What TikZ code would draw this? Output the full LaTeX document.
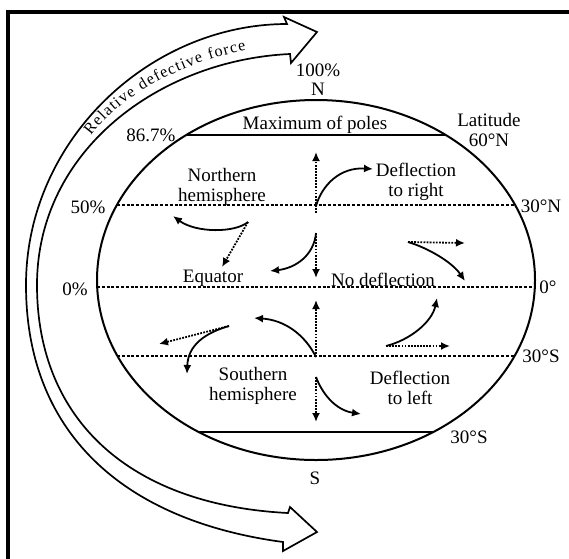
\documentclass[tikz,border=0pt]{standalone}
\usepackage{fontspec}
\setmainfont{Liberation Serif}
\usetikzlibrary{arrows.meta, decorations.text}

\begin{document}
\begin{tikzpicture}[
    x=1pt, y=-1pt,
    lbl/.style={font=\fontsize{19}{20}\selectfont, inner sep=0pt, align=center},
    globe/.style={line width=2pt},
    latline/.style={line width=1.6pt, dash pattern=on 3pt off 1.8pt},
    defl/.style={-{Latex[length=9pt,width=8pt]}, line width=1.8pt},
    dotdefl/.style={defl, dash pattern=on 1.8pt off 1.3pt},
    band/.style={line width=1.7pt, line join=miter}
]
\useasboundingbox (0,0) rectangle (569,558);

% Frame
\draw[line width=4pt] (8,560) -- (8,12) -- (569,12);

% Relative force band
\draw[band] (287,24) .. controls (150,24) and (26,140) .. (26,285)
    .. controls (26,430) and (120,520) .. (283,542)
    -- (283,551) -- (317,532) -- (290,507) -- (288,513)
    .. controls (130,505) and (37,420) .. (37,285)
    .. controls (37,150) and (160,60) .. (290,54)
    -- (291,63) -- (317,32) -- (284,17) -- cycle;
\path[decorate, decoration={text along path, text align={fit to path},
    text={|\fontsize{16}{16}\selectfont|Relative defective force}}]
    (91,136) .. controls (122,94) and (182,63) .. (246,50);

% Globe and latitudes
\draw[globe] (316,280) ellipse [x radius=219pt, y radius=180pt];
\draw[globe] (186,135) -- (446,135);
\draw[globe] (199,432) -- (433,432);
\draw[latline] (117,205) -- (515,205);
\draw[latline] (97,287) -- (535,287);
\draw[latline] (117,356) -- (515,356);

% North, poleward of 30N
\coordinate (nA) at (316,213);
\coordinate (nAup) at (316,152);
\coordinate (nAtip) at (373,169);
\draw[dotdefl] (nA) -- (nAup);
\draw[defl] (316,206) .. controls (322,185) and (340,167) .. (nAtip);

% North, equatorward
\coordinate (nB) at (316,233);
\coordinate (nBdn) at (316,278);
\coordinate (nBtip) at (270,271);
\draw[dotdefl] (nB) -- (nBdn);
\draw[defl] (nB) .. controls (314,255) and (296,268) .. (nBtip);

\coordinate (nC) at (248,222);
\coordinate (nCdn) at (222,267);
\coordinate (nCtip) at (173,216);
\draw[dotdefl] (nC) -- (nCdn);
\draw[defl] (nC) .. controls (235,233) and (196,233) .. (nCtip);

\coordinate (nD) at (408,242);
\coordinate (nDrt) at (465,243);
\coordinate (nDtip) at (465,281);
\draw[dotdefl] (nD) -- (nDrt);
\draw[defl] (nD) .. controls (428,248) and (452,262) .. (nDtip);

% South, equatorward
\coordinate (sA) at (316,357);
\coordinate (sAup) at (316,300);
\coordinate (sAtip) at (254,318);
\draw[dotdefl] (sA) -- (sAup);
\draw[defl] (sA) .. controls (305,335) and (285,320) .. (sAtip);

\coordinate (sB) at (386,346);
\coordinate (sBrt) at (450,346);
\coordinate (sBtip) at (437,298);
\draw[dotdefl] (sB) -- (sBrt);
\draw[defl] (sB) .. controls (410,340) and (432,322) .. (sBtip);

\coordinate (sC) at (229,326);
\coordinate (sClt) at (159,344);
\coordinate (sCtip) at (187,374);
\draw[dotdefl] (sC) -- (sClt);
\draw[defl] (sC) .. controls (205,333) and (188,345) .. (sCtip);

% South, poleward of 30S
\coordinate (sD) at (316,377);
\coordinate (sDdn) at (316,422);
\coordinate (sDtip) at (361,414);
\draw[dotdefl] (sD) -- (sDdn);
\draw[defl] (sD) .. controls (322,393) and (335,410) .. (sDtip);

% Labels
\node[lbl] (pct100) at (318,70) {100\%};
\node[lbl] (north) at (318,89) {N};
\node[lbl] (pct867) at (151,135) {86.7\%};
\node[lbl] (poles) at (315,125) {Maximum of poles};
\node[lbl] (lat60) at (489,130) {Latitude\\60°N};
\node[lbl] (nhemi) at (222,187) {Northern\\hemisphere};
\node[lbl] (dright) at (416,182) {Deflection\\to right};
\node[lbl] (pct50) at (88,207) {50\%};
\node[lbl] (lat30n) at (541,206) {30°N};
\node[lbl] (equator) at (213,278) {Equator};
\node[lbl] (nodefl) at (383,280) {No deflection};
\node[lbl] (pct0) at (75,289) {0\%};
\node[lbl] (lat0) at (548,287) {0°};
\node[lbl] (lat30s) at (541,356) {30°S};
\node[lbl] (shemi) at (253,386) {Southern\\hemisphere};
\node[lbl] (dleft) at (410,388) {Deflection\\to left};
\node[lbl] (lat30sb) at (469,437) {30°S};
\node[lbl] (south) at (315,478) {S};

\end{tikzpicture}
\end{document}
